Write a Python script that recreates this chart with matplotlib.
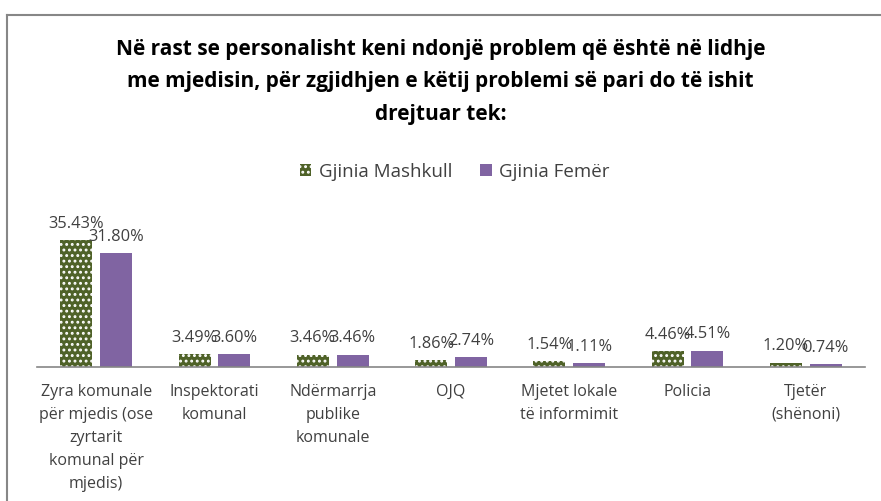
import numpy as np
import matplotlib
matplotlib.use('Agg')
import matplotlib.pyplot as plt
from matplotlib.patches import Patch

categories = ['Zyra komunale\npër mjedis (ose\nzyrtarit\nkomunal për\nmjedis)',
              'Inspektorati\nkomunal',
              'Ndërmarrja\npublike\nkomunale',
              'OJQ',
              'Mjetet lokale\ntë informimit',
              'Policia',
              'Tjetër\n(shënoni)']
mashkull = [35.43, 3.49, 3.46, 1.86, 1.54, 4.46, 1.20]
femer = [31.80, 3.60, 3.46, 2.74, 1.11, 4.51, 0.74]
series_names = ['Gjinia Mashkull', 'Gjinia Femër']
title = ('Në rast se personalisht keni ndonjë problem që është në lidhje\n'
         'me mjedisin, për zgjidhjen e këtij problemi së pari do të ishit\n'
         'drejtuar tek:')

green = '#4F6228'
purple = '#8064A2'
txt_col = '#404040'

plt.rcParams['font.family'] = ['Open Sans', 'DejaVu Sans']
plt.rcParams['hatch.linewidth'] = 1.3

fig = plt.figure(figsize=(8.81, 5.01), dpi=100)
ax = fig.add_axes([37/881, 134/501, 828/881, 143.4/501])

x = np.arange(len(categories))
w = 0.27
b1 = ax.bar(x - 0.168, mashkull, w, color=green, edgecolor='white', linewidth=0, hatch='...')
b2 = ax.bar(x + 0.168, femer, w, color=purple, linewidth=0)

for bars, vals in [(b1, mashkull), (b2, femer)]:
    for r, v in zip(bars, vals):
        ax.annotate('%.2f%%' % v, (r.get_x() + r.get_width() / 2, v),
                    xytext=(0, 6), textcoords='offset points',
                    ha='center', va='bottom', fontsize=11.8, color=txt_col)

ax.set_xlim(-0.5, len(categories) - 0.5)
ax.set_ylim(0, 40)
ax.set_xticks(x)
ax.set_xticklabels(categories, fontsize=11.5, color=txt_col, linespacing=1.58)
ax.tick_params(axis='x', length=0, pad=12)
ax.set_yticks([])
for s in ['top', 'left', 'right']:
    ax.spines[s].set_visible(False)
ax.spines['bottom'].set_color('#868686')
ax.spines['bottom'].set_linewidth(1.2)

fig.text(0.5, (501 - 82) / 501, title, ha='center', va='center',
         fontsize=15, fontweight='bold', color='black', linespacing=1.72)

handles = [Patch(facecolor=green, edgecolor='white', linewidth=0, hatch='...'),
           Patch(facecolor=purple, linewidth=0)]
fig.legend(handles, series_names, loc='center', bbox_to_anchor=(455 / 881, (501 - 172) / 501),
           ncol=2, frameon=False, fontsize=13.5, handlelength=0.6, handleheight=0.6,
           handletextpad=0.4, columnspacing=1.5, labelcolor=txt_col)

# chart border (only top and left visible in the crop)
fig.add_artist(plt.Line2D([7/881, 7/881], [0, (501 - 15) / 501], color='#878787', lw=1.5))
fig.add_artist(plt.Line2D([7/881, 1], [(501 - 15) / 501, (501 - 15) / 501], color='#878787', lw=1.5))

fig.savefig('out.png', dpi=100)
